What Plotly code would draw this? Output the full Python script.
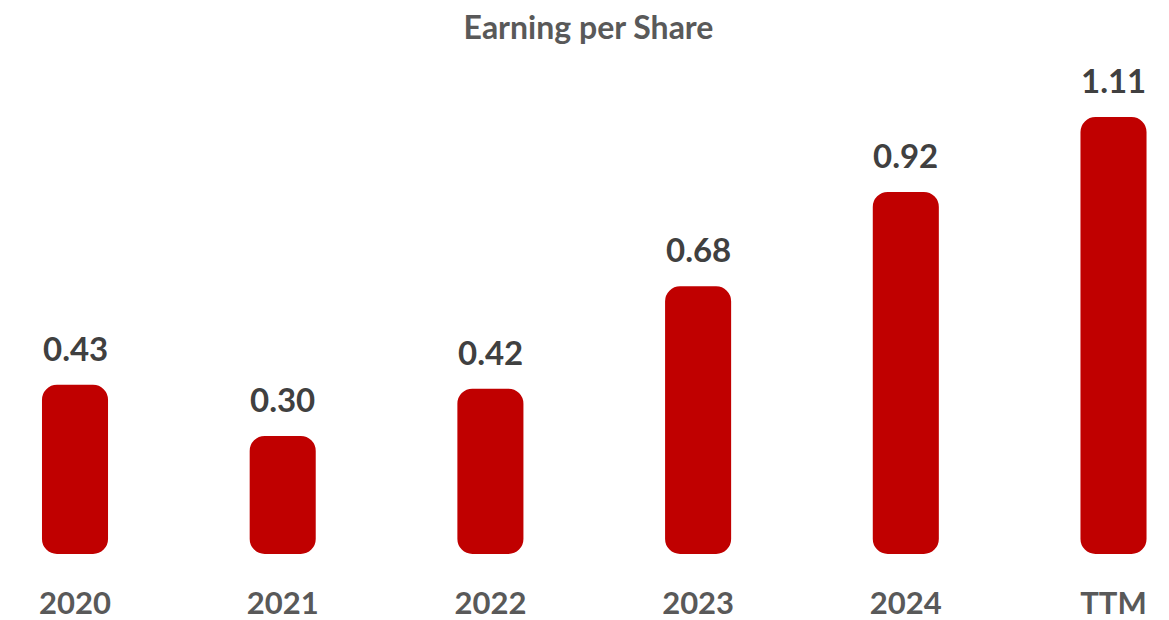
import plotly.graph_objects as go

categories = ["2020", "2021", "2022", "2023", "2024", "TTM"]
eps = [0.43, 0.30, 0.42, 0.68, 0.92, 1.11]
labels = ["0.43", "0.30", "0.42", "0.68", "0.92", "1.11"]

BAR = "#C00000"
LABEL = "#404040"
AXIS = "#595959"
FONT = "Lato, 'Open Sans', sans-serif"

W, H = 1161, 612

fig = go.Figure()
fig.add_trace(go.Bar(x=categories, y=eps, base=[0] * len(eps), marker_color=BAR,
                     marker_line_width=0, width=0.318, hoverinfo="skip"))

for i, (v, t) in enumerate(zip(eps, labels)):
    fig.add_annotation(x=i, y=v, text=f"<b>{t}</b>", showarrow=False,
                       yanchor="bottom", yshift=15,
                       font=dict(family=FONT, size=33, color=LABEL))

fig.update_layout(
    width=W, height=H,
    barcornerradius=15,
    showlegend=False,
    plot_bgcolor="white", paper_bgcolor="white",
    margin=dict(l=0, r=0, t=54, b=66),
    title=dict(text="<b>Earning per Share</b>", x=0.5, xanchor="center",
               y=1 - 20 / H, yanchor="middle", yref="container",
               font=dict(family=FONT, size=32, color=AXIS)),
    xaxis=dict(type="category", range=[-0.3226, 5.2672], showgrid=False,
               zeroline=False, showline=False,
               ticks="", ticklabelstandoff=28,
               tickprefix="<b>", ticksuffix="</b>",
               tickfont=dict(family=FONT, size=31, color=AXIS)),
    yaxis=dict(range=[0, 1.25], visible=False, showgrid=False, zeroline=False),
)

fig.write_html("out.html")
